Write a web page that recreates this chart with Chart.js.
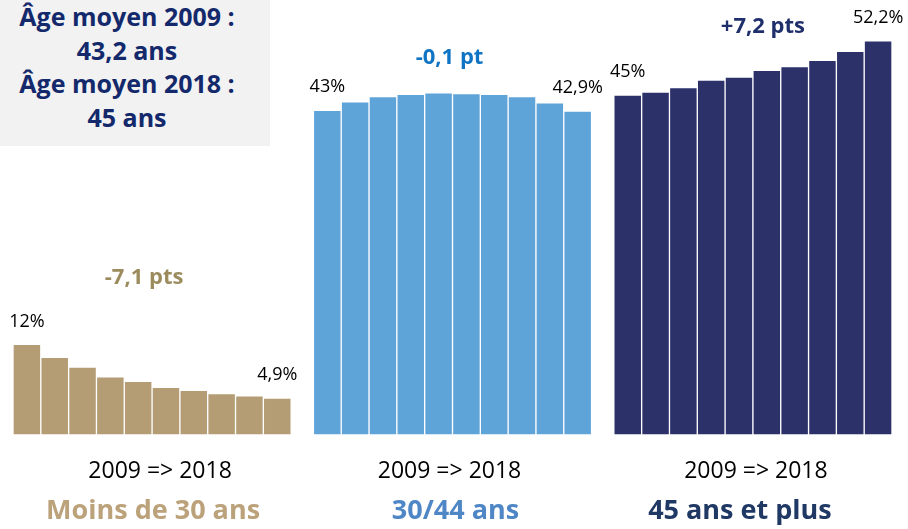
<!DOCTYPE html>
<html lang="fr">
<head>
<meta charset="utf-8">
<title>Répartition par âge 2009 => 2018</title>
<script src="https://cdn.jsdelivr.net/npm/chart.js@4.4.1/dist/chart.umd.min.js"></script>
<style>
  body { margin: 0; background: #fff; }
  #wrap { position: relative; width: 908px; height: 529px; }
  #chart { position: absolute; left: 0; top: 0; }
  #ageBox {
    position: absolute; left: 0; top: 0; width: 270px; height: 146px;
    background: #f2f2f2; color: #13296b;
    font: bold 25px "Open Sans", sans-serif; line-height: 33.5px;
    text-align: center; padding: 0 16px 0 0; box-sizing: border-box;
  }
</style>
</head>
<body>
<div id="wrap">
  <canvas id="chart" width="908" height="529"></canvas>
  <div id="ageBox">Âge moyen 2009 :<br>43,2 ans<br>Âge moyen 2018 :<br>45 ans</div>
</div>
<script>
// Part of each age group, 2009 => 2018 (%)
const years = ['2009', '2010', '2011', '2012', '2013', '2014', '2015', '2016', '2017', '2018'];
const moins30 = [12, 10.3, 9.0, 7.7, 7.1, 6.3, 5.9, 5.5, 5.2, 4.9];
const age30_44 = [43, 44.1, 44.8, 45.1, 45.3, 45.2, 45.1, 44.8, 44.0, 42.9];
const plus45 = [45, 45.4, 46.0, 47.0, 47.4, 48.3, 48.8, 49.6, 50.8, 52.2];

const groupNames = ['Moins de 30 ans', '30/44 ans', '45 ans et plus'];
const deltas = ['-7,1 pts', '-0,1 pt', '+7,2 pts'];
const periodLabel = '2009 => 2018';

const barColors = ['#b49c74', '#5fa4d9', '#2d316a'];
const deltaColors = ['#9b8b5d', '#0f74c4', '#1f2f6c'];
const nameColors = ['#bba27a', '#4f86c6', '#1f3864'];

// groups sit side by side on one linear axis, with a small gap between them
const groupGap = 0.8;
const series = [moins30, age30_44, plus45];
const datasets = series.map((values, g) => ({
  label: groupNames[g],
  data: values.map((v, i) => ({ x: g * (years.length + groupGap) + i, y: v })),
  backgroundColor: barColors[g],
  borderColor: '#ffffff',
  borderWidth: 1,
  borderSkipped: false,
  grouped: false,
  categoryPercentage: 1,
  barPercentage: 1
}));

const fmt = v => v.toString().replace('.', ',') + '%';

// label offsets (px) for each group
const deltaPos = [{ dx: -8, dy: 67 }, { dx: -3, dy: 35 }, { dx: 10, dy: 14 }];
const periodDx = [8, -3, 3];
const nameDx = [1, 3, -13];

const textPlugin = {
  id: 'groupTexts',
  afterDatasetsDraw(chart) {
    const ctx = chart.ctx;
    const base = chart.scales.y.getPixelForValue(0);
    ctx.save();
    ctx.textAlign = 'center';
    ctx.textBaseline = 'middle';
    chart.data.datasets.forEach((ds, g) => {
      const bars = chart.getDatasetMeta(g).data;
      const first = bars[0];
      const last = bars[bars.length - 1];
      const mid = (first.x + last.x) / 2;
      const topY = Math.min(...bars.map(b => b.y));

      ctx.fillStyle = '#000';
      ctx.font = '18px "Open Sans", sans-serif';
      ctx.fillText(fmt(series[g][0]), first.x, first.y - 23);
      ctx.fillText(fmt(series[g][series[g].length - 1]), last.x, last.y - 23);

      ctx.fillStyle = deltaColors[g];
      ctx.font = 'bold 22px "Open Sans", sans-serif';
      ctx.fillText(deltas[g], mid + deltaPos[g].dx, topY - deltaPos[g].dy);

      ctx.fillStyle = '#000';
      ctx.font = '23px "Open Sans", sans-serif';
      ctx.fillText(periodLabel, mid + periodDx[g], base + 36);

      ctx.fillStyle = nameColors[g];
      ctx.font = 'bold 27px "Open Sans", sans-serif';
      ctx.fillText(groupNames[g], mid + nameDx[g], base + 76);
    });
    ctx.restore();
  }
};

new Chart(document.getElementById('chart'), {
  type: 'bar',
  data: { datasets: datasets },
  options: {
    responsive: false,
    animation: false,
    layout: { padding: { left: 13, right: 16, top: 0, bottom: 94 } },
    plugins: {
      legend: { display: false },
      tooltip: { enabled: false }
    },
    scales: {
      x: {
        type: 'linear',
        display: false,
        offset: false,
        min: -0.5,
        max: 2 * (years.length + groupGap) + years.length - 0.5
      },
      y: {
        display: false,
        min: 0,
        max: 57.6
      }
    }
  },
  plugins: [textPlugin]
});
</script>
</body>
</html>
